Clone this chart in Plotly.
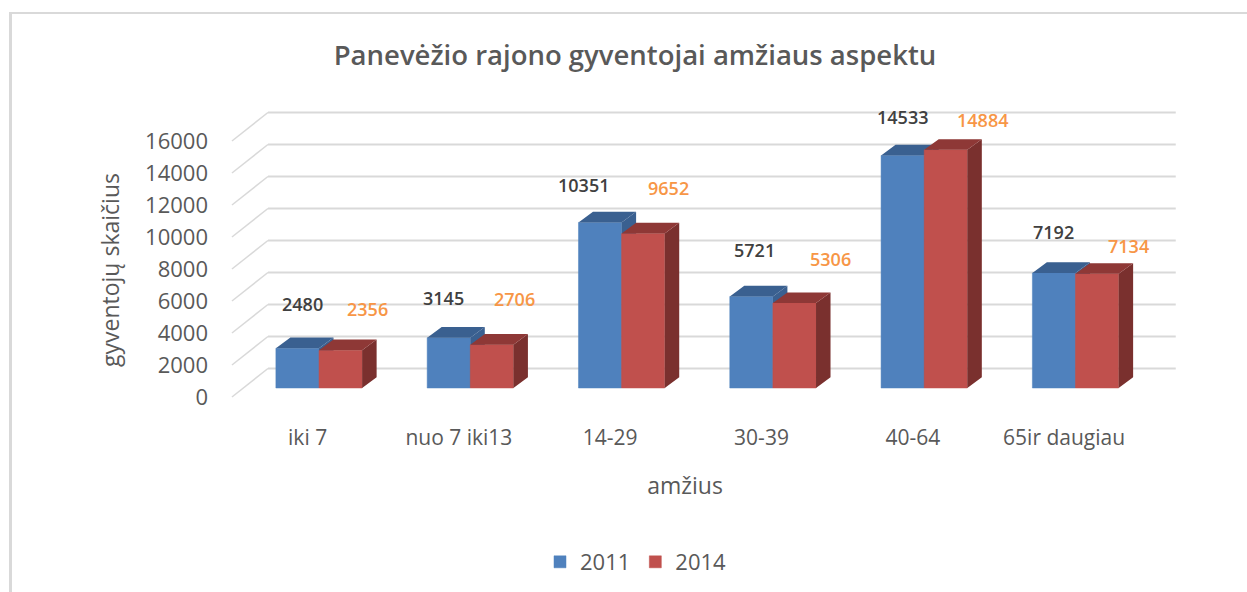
import plotly.graph_objects as go

categories = ["iki 7", "nuo 7 iki13", "14-29", "30-39", "40-64", "65ir daugiau"]
values_2011 = [2480, 3145, 10351, 5721, 14533, 7192]
values_2014 = [2356, 2706, 9652, 5306, 14884, 7134]
y_ticks = [0, 2000, 4000, 6000, 8000, 10000, 12000, 14000, 16000]

# pixel offsets of the data labels relative to each bar's top centre
shift_2011 = [(5, 44), (-5, 40), (-17, 37), (3, 46), (0, 38), (0, 41)]
shift_2014 = [(27, 41), (23, 46), (25, 46), (36, 44), (37, 30), (31, 28)]

W, H = 1247, 592
ML, MR, MT, MB = 193, 70, 105, 157
PX_X = 151.3           # pixels per category
PX_Y = 0.016           # pixels per unit
X_ORIGIN = 319         # pixel of the first group's centre
Y_ORIGIN = 388         # pixel of value 0 on the bars' front plane

x_range = [(ML - X_ORIGIN) / PX_X, (W - MR - X_ORIGIN) / PX_X]
y_range = [(Y_ORIGIN - (H - MB)) / PX_Y, (Y_ORIGIN - MT) / PX_Y]

BAR_W = 0.285
DX_BAR, DY_BAR = 14.5 / PX_X, 10.7 / PX_Y      # bar depth
DX_BACK, DY_BACK = 11.4 / PX_X, 9.0 / PX_Y     # bar plane to front edge
DX_WALL, DY_WALL = 36 / PX_X, 28.5 / PX_Y      # front edge to back wall

GRID = "#D9D9D9"
TEXT = "#595959"
FONT = "Open Sans"


def polygons(values, left):
    top_x, top_y, side_x, side_y = [], [], [], []
    for i, v in enumerate(values):
        x0, x1 = i + left, i + left + BAR_W
        top_x += [x0, x0 + DX_BAR, x1 + DX_BAR, x1, None]
        top_y += [v, v + DY_BAR, v + DY_BAR, v, None]
        side_x += [x1, x1 + DX_BAR, x1 + DX_BAR, x1, None]
        side_y += [0, DY_BAR, v + DY_BAR, v, None]
    return top_x, top_y, side_x, side_y


def series(name, values, left, color, top_c, side_c, xa, ya):
    top_x, top_y, side_x, side_y = polygons(values, left)
    return [
        go.Bar(name=name, x=list(range(len(values))), y=values, width=BAR_W, offset=left,
               marker=dict(color=color, line=dict(color=color, width=0.5)),
               xaxis=xa, yaxis=ya),
        go.Scatter(x=side_x, y=side_y, mode="lines", fill="toself", fillcolor=side_c,
                   line=dict(width=0), hoverinfo="skip", showlegend=False, xaxis=xa, yaxis=ya),
        go.Scatter(x=top_x, y=top_y, mode="lines", fill="toself", fillcolor=top_c,
                   line=dict(width=0), hoverinfo="skip", showlegend=False, xaxis=xa, yaxis=ya),
    ]


fig = go.Figure()
for t in series("2011", values_2011, -BAR_W, "#4F81BD", "#3A6090", "#3A6090", "x", "y"):
    fig.add_trace(t)
for t in series("2014", values_2014, 0, "#C0504D", "#8E3836", "#7A302E", "x2", "y2"):
    fig.add_trace(t)

n = len(categories)
front_left = -0.5 - DX_BACK
shapes = []
for v in y_ticks:
    y_front = v - DY_BACK
    y_back = y_front + DY_WALL
    x_back = front_left + DX_WALL
    shapes.append(dict(type="line", xref="x", yref="y", x0=front_left, x1=x_back,
                       y0=y_front, y1=y_back, line=dict(color=GRID, width=1.5), layer="below"))
    shapes.append(dict(type="line", xref="x", yref="y", x0=x_back, x1=x_back + n,
                       y0=y_back, y1=y_back, line=dict(color=GRID, width=2), layer="below"))


def px_x(p):
    return (p - ML) / (W - ML - MR)


def px_y(p):
    return 1 - (p - MT) / (H - MT - MB)


for x0, x1, y0, y1 in [(9, 12, 12, 592), (9, 1247, 12, 14)]:
    shapes.append(dict(type="rect", xref="paper", yref="paper", x0=px_x(x0), x1=px_x(x1),
                       y0=px_y(y0), y1=px_y(y1), fillcolor=GRID, line=dict(width=0), layer="below"))

annotations = []
for values, left, shifts, color in [(values_2011, -BAR_W / 2, shift_2011, "#404040"),
                                    (values_2014, BAR_W / 2, shift_2014, "#F79646")]:
    for i, v in enumerate(values):
        annotations.append(dict(x=i + left, y=v, xref="x", yref="y", text=str(v), showarrow=False,
                                xshift=shifts[i][0], yshift=shifts[i][1],
                                font=dict(family=FONT, size=18, weight=600, color=color)))

axis_common = dict(range=x_range, tickmode="array", showgrid=False, zeroline=False, showline=False, ticks="")
fig.update_layout(
    width=W, height=H, autosize=False, paper_bgcolor="white", plot_bgcolor="rgba(0,0,0,0)",
    margin=dict(l=ML, r=MR, t=MT, b=MB),
    title=dict(text="Panevėžio rajono gyventojai amžiaus aspektu", x=635 / W, xanchor="center",
               y=1 - 55 / H, yanchor="middle", font=dict(family=FONT, size=27.5, weight=600, color=TEXT)),
    xaxis=dict(**axis_common, tickvals=[i - DX_BACK for i in range(n)], ticktext=categories,
               ticklabelstandoff=-12, tickfont=dict(family=FONT, size=21, color=TEXT),
               title=dict(text="amžius", standoff=27, font=dict(family=FONT, size=23, color=TEXT))),
    yaxis=dict(range=y_range, tickmode="array", tickvals=[v - DY_BACK for v in y_ticks],
               ticktext=[str(v) for v in y_ticks], showgrid=False, zeroline=False, showline=False,
               ticks="", ticklabelstandoff=-16, tickfont=dict(family=FONT, size=22, color=TEXT),
               title=dict(text="gyventojų skaičius", standoff=19, font=dict(family=FONT, size=23, color=TEXT))),
    xaxis2=dict(range=x_range, overlaying="x", visible=False),
    yaxis2=dict(range=y_range, overlaying="y", visible=False),
    shapes=shapes, annotations=annotations, showlegend=True,
    legend=dict(orientation="h", x=636 / W, xanchor="center", xref="container",
                y=1 - 562 / H, yanchor="middle", yref="container",
                font=dict(family=FONT, size=22, color=TEXT), itemclick=False),
    hovermode=False,
)
fig.write_html("out.html", config={"displayModeBar": False},
               post_script="document.body.style.margin='0';document.documentElement.style.overflow='hidden';")
